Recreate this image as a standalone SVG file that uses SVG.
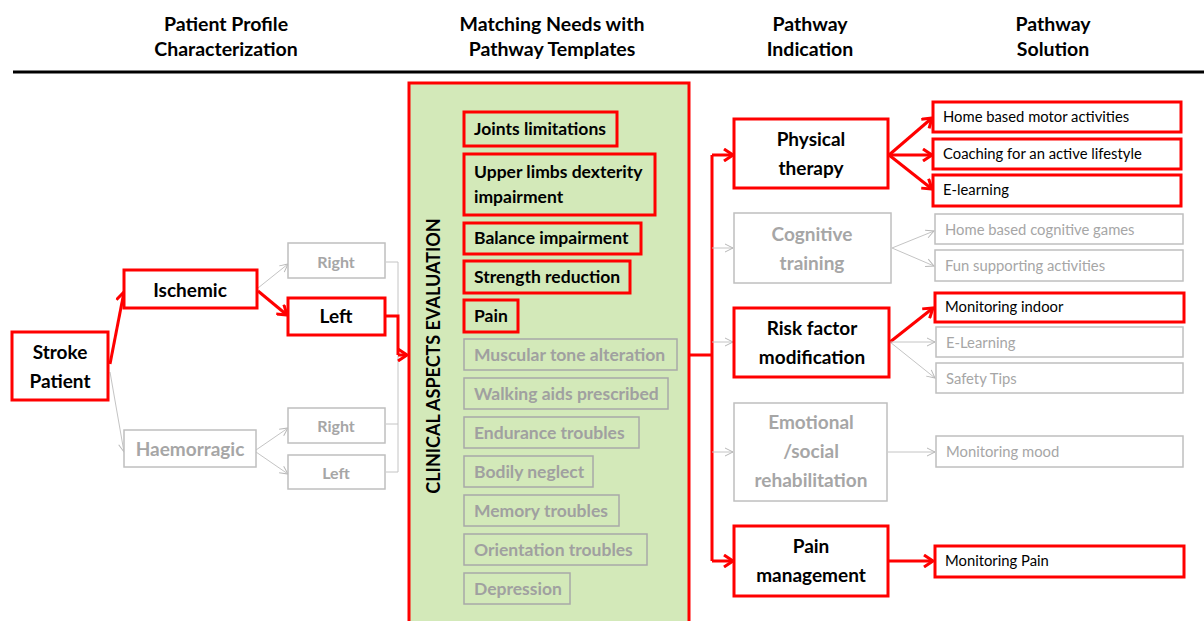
<svg xmlns="http://www.w3.org/2000/svg" width="1204" height="621" viewBox="0 0 1204 621">
<defs>
<marker id="ar" viewBox="0 0 12 14" refX="10" refY="7" markerWidth="12" markerHeight="14" markerUnits="userSpaceOnUse" orient="auto">
<path d="M1,1 L10,7 L1,13" fill="none" stroke="#ff0000" stroke-width="3"/>
</marker>
<marker id="ag" viewBox="0 0 10 10" refX="9" refY="5" markerWidth="10" markerHeight="10" markerUnits="userSpaceOnUse" orient="auto">
<path d="M1,1 L9,5 L1,9" fill="none" stroke="#b8b8b8" stroke-width="1"/>
</marker>
</defs>
<style>
text{font-family:Lato,"Liberation Sans",sans-serif}
.h{font-size:19.5px;font-weight:bold;text-anchor:middle;fill:#000}
.rb{fill:#fff;stroke:#ff0000;stroke-width:3}
.gb{fill:#fff;stroke:#bfbfbf;stroke-width:1.5}
.ri{fill:none;stroke:#ff0000;stroke-width:3}
.gi{fill:none;stroke:#a8a8a8;stroke-width:1.5}
.bt{font-size:19px;font-weight:bold;text-anchor:middle;fill:#000}
.gt{font-size:19px;font-weight:bold;text-anchor:middle;fill:#a6a6a6}
.it{font-size:17.5px;font-weight:bold;fill:#000}
.igt{font-size:17.5px;font-weight:bold;fill:#a0a0a0}
.st{font-size:14.8px;fill:#000}
.sgt{font-size:14.8px;fill:#a6a6a6}
.rc{fill:none;stroke:#ff0000;stroke-width:3;marker-end:url(#ar)}
.rl{fill:none;stroke:#ff0000;stroke-width:3}
.gc{fill:none;stroke:#c4c4c4;stroke-width:1;marker-end:url(#ag)}
.gl{fill:none;stroke:#c4c4c4;stroke-width:1}
</style>
<rect width="1204" height="621" fill="#fff"/>
<g id="headers">
<text class="h" x="226" y="31">Patient Profile</text>
<text class="h" x="226" y="56">Characterization</text>
<text class="h" x="552" y="31">Matching Needs with</text>
<text class="h" x="552" y="56">Pathway Templates</text>
<text class="h" x="810" y="31">Pathway</text>
<text class="h" x="810" y="56">Indication</text>
<text class="h" x="1053" y="31">Pathway</text>
<text class="h" x="1053" y="56">Solution</text>
<line x1="13" y1="72" x2="1204" y2="72" stroke="#000" stroke-width="3"/>
</g>
<g id="connectors">
<path class="rc" d="M110,364 L124,292"/>
<path class="gc" d="M110,372 L124,452"/>
<path class="gc" d="M258,288 L288,264"/>
<path class="rc" d="M258,291 L287,315"/>
<path class="gc" d="M256,450 L288,428"/>
<path class="gc" d="M256,452 L288,474"/>
<path class="gl" d="M386,262 H398 V472 H386 M386,424 H398"/>
<path class="rl" d="M386,316 H398 V355"/>
<path class="rc" d="M398,355 H407"/>
<path class="rl" d="M690,355 H712 M712,155 V561"/>
<path class="rc" d="M712,155 H733"/>
<path class="gc" d="M712,248 H733"/>
<path class="gc" d="M712,342 H733"/>
<path class="gc" d="M712,452 H733"/>
<path class="rc" d="M712,561 H733"/>
<path class="rc" d="M889,155 L932,118"/>
<path class="rc" d="M889,155 L932,155"/>
<path class="rc" d="M889,155 L932,189"/>
<path class="gc" d="M892,248 L934,231"/>
<path class="gc" d="M892,248 L934,266"/>
<path class="rc" d="M890,342 L933,308"/>
<path class="gc" d="M890,342 L935,342"/>
<path class="gc" d="M890,342 L935,378"/>
<path class="gc" d="M888,452 L935,452"/>
<path class="rc" d="M889,561 L933,561"/>
</g>
<g id="stroke-patient"><rect class="rb" x="12" y="332" width="96" height="68"/><text class="bt" x="60" y="359">Stroke</text><text class="bt" x="60" y="388">Patient</text></g>
<g id="ischemic"><rect class="rb" x="124" y="270" width="133" height="38"/><text class="bt" x="190" y="297">Ischemic</text></g>
<g id="haemorragic"><rect class="gb" x="124" y="430" width="132" height="37"/><text class="gt" x="190" y="456">Haemorragic</text></g>
<g id="isch-right"><rect class="gb" x="288" y="243" width="97" height="35"/><text class="gt" x="336" y="268" style="font-size:16px">Right</text></g>
<g id="isch-left"><rect class="rb" x="288" y="298" width="97" height="37"/><text class="bt" x="336" y="323">Left</text></g>
<g id="haem-right"><rect class="gb" x="288" y="408" width="97" height="35"/><text class="gt" x="336" y="432" style="font-size:16px">Right</text></g>
<g id="haem-left"><rect class="gb" x="288" y="455" width="97" height="34"/><text class="gt" x="336" y="479" style="font-size:16px">Left</text></g>
<g id="clinical-aspects">
<rect x="409" y="83" width="280" height="545" fill="#d3e9b9" stroke="#ff0000" stroke-width="3"/>
<text transform="translate(440,356) rotate(-90)" style="font-size:18px;font-weight:bold;text-anchor:middle">CLINICAL ASPECTS EVALUATION</text>
<rect class="ri" x="464" y="112" width="153" height="34"/><text class="it" x="474" y="135">Joints limitations</text>
<rect class="ri" x="464" y="154" width="191" height="61"/><text class="it" x="474" y="178">Upper limbs dexterity</text><text class="it" x="474" y="203">impairment</text>
<rect class="ri" x="464" y="223" width="177" height="31"/><text class="it" x="474" y="244">Balance impairment</text>
<rect class="ri" x="464" y="261" width="166" height="32"/><text class="it" x="474" y="283">Strength reduction</text>
<rect class="ri" x="464" y="300" width="54" height="32"/><text class="it" x="474" y="322">Pain</text>
<rect class="gi" x="464" y="339" width="213" height="31"/><text class="igt" x="474" y="361">Muscular tone alteration</text>
<rect class="gi" x="464" y="378" width="204" height="31"/><text class="igt" x="474" y="400">Walking aids prescribed</text>
<rect class="gi" x="464" y="417" width="175" height="31"/><text class="igt" x="474" y="439">Endurance troubles</text>
<rect class="gi" x="464" y="456" width="129" height="31"/><text class="igt" x="474" y="478">Bodily neglect</text>
<rect class="gi" x="464" y="495" width="155" height="31"/><text class="igt" x="474" y="517">Memory troubles</text>
<rect class="gi" x="464" y="534" width="183" height="31"/><text class="igt" x="474" y="556">Orientation troubles</text>
<rect class="gi" x="464" y="573" width="106" height="31"/><text class="igt" x="474" y="595">Depression</text>
</g>
<g id="physical-therapy"><rect class="rb" x="734" y="119" width="154" height="69"/><text class="bt" x="811" y="146">Physical</text><text class="bt" x="811" y="175">therapy</text></g>
<g id="cognitive-training"><rect class="gb" x="734" y="213" width="157" height="70"/><text class="gt" x="812" y="241">Cognitive</text><text class="gt" x="812" y="270">training</text></g>
<g id="risk-factor"><rect class="rb" x="734" y="308" width="155" height="69"/><text class="bt" x="812" y="335">Risk factor</text><text class="bt" x="812" y="364">modification</text></g>
<g id="emotional"><rect class="gb" x="734" y="403" width="153" height="98"/><text class="gt" x="811" y="429">Emotional</text><text class="gt" x="811" y="458">/social</text><text class="gt" x="811" y="487">rehabilitation</text></g>
<g id="pain-management"><rect class="rb" x="734" y="526" width="154" height="70"/><text class="bt" x="811" y="553">Pain</text><text class="bt" x="811" y="582">management</text></g>
<g id="sol-home-motor"><rect class="rb" x="933" y="102" width="248" height="30"/><text class="st" x="943" y="122">Home based motor activities</text></g>
<g id="sol-coaching"><rect class="rb" x="933" y="139" width="248" height="30"/><text class="st" x="943" y="159">Coaching for an active lifestyle</text></g>
<g id="sol-elearning"><rect class="rb" x="933" y="175" width="248" height="31"/><text class="st" x="943" y="195">E-learning</text></g>
<g id="sol-cog-games"><rect class="gb" x="935" y="214" width="248" height="30"/><text class="sgt" x="945" y="235">Home based cognitive games</text></g>
<g id="sol-fun"><rect class="gb" x="935" y="250" width="248" height="31"/><text class="sgt" x="945" y="271">Fun supporting activities</text></g>
<g id="sol-mon-indoor"><rect class="rb" x="935" y="293" width="249" height="29"/><text class="st" x="945" y="312">Monitoring indoor</text></g>
<g id="sol-elearning2"><rect class="gb" x="936" y="327" width="247" height="30"/><text class="sgt" x="946" y="348">E-Learning</text></g>
<g id="sol-safety"><rect class="gb" x="936" y="363" width="247" height="30"/><text class="sgt" x="946" y="384">Safety Tips</text></g>
<g id="sol-mood"><rect class="gb" x="936" y="436" width="247" height="31"/><text class="sgt" x="946" y="457">Monitoring mood</text></g>
<g id="sol-mon-pain"><rect class="rb" x="935" y="546" width="249" height="31"/><text class="st" x="945" y="566">Monitoring Pain</text></g>
</svg>
